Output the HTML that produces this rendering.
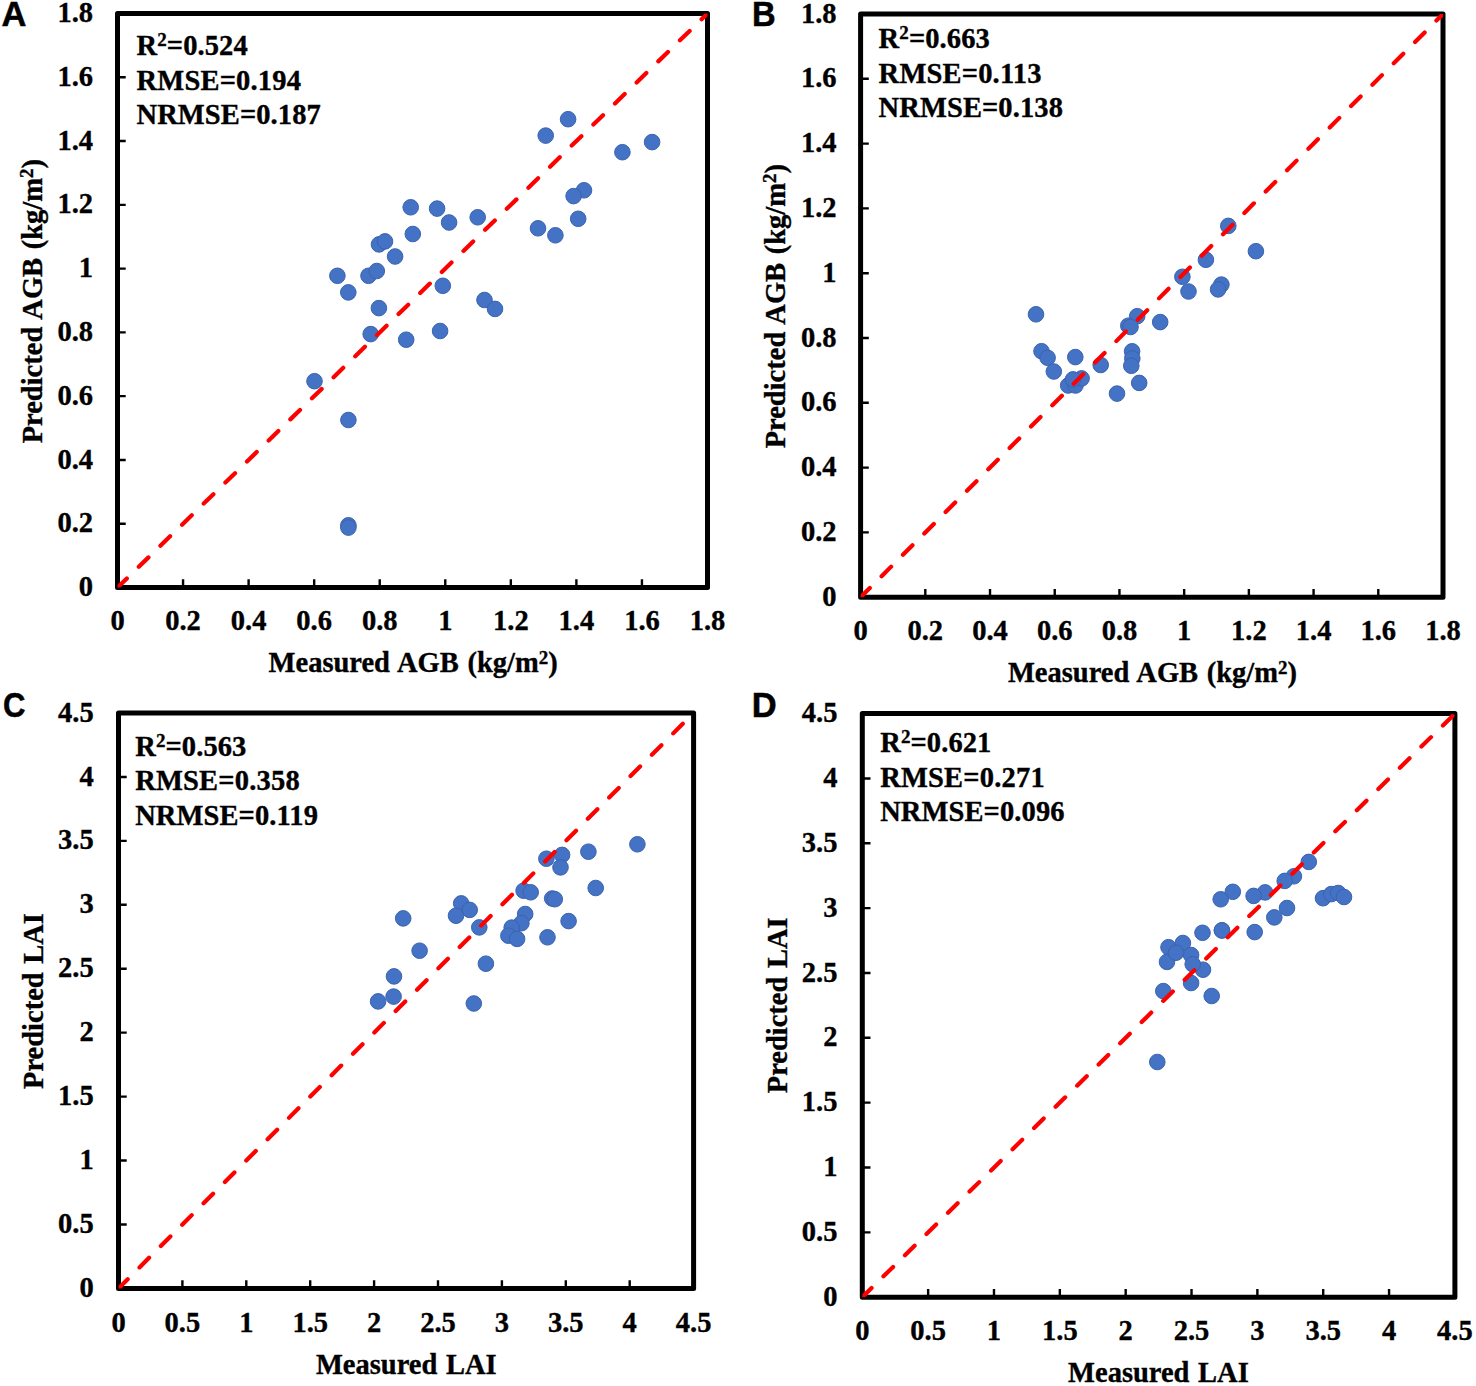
<!DOCTYPE html><html><head><meta charset="utf-8"><style>html,body{margin:0;padding:0;background:#fff;overflow:hidden;width:1476px;height:1386px;}svg{display:block;}</style></head><body>
<svg width="1476" height="1386" viewBox="0 0 1476 1386">
<rect width="1476" height="1386" fill="#fff"/>
<path d="M183.06 587.5v-8.2M117.5 523.72h8.2M248.61 587.5v-8.2M117.5 459.94h8.2M314.17 587.5v-8.2M117.5 396.17h8.2M379.72 587.5v-8.2M117.5 332.39h8.2M445.28 587.5v-8.2M117.5 268.61h8.2M510.83 587.5v-8.2M117.5 204.83h8.2M576.39 587.5v-8.2M117.5 141.06h8.2M641.94 587.5v-8.2M117.5 77.28h8.2" stroke="#000" stroke-width="2.4" fill="none"/>
<rect x="117.5" y="13.5" width="590.00" height="574.00" fill="none" stroke="#000" stroke-width="5" stroke-linejoin="round"/>
<g fill="#4472C4" stroke="#3B63B0" stroke-width="1"><circle cx="410.7" cy="207.3" r="7.8"/><circle cx="437.1" cy="208.6" r="7.8"/><circle cx="449.1" cy="222.5" r="7.8"/><circle cx="477.7" cy="217.3" r="7.8"/><circle cx="412.8" cy="234" r="7.8"/><circle cx="379" cy="244.4" r="7.8"/><circle cx="385" cy="241.4" r="7.8"/><circle cx="395.1" cy="256.5" r="7.8"/><circle cx="337.4" cy="275.8" r="7.8"/><circle cx="368.5" cy="275.8" r="7.8"/><circle cx="376.8" cy="271" r="7.8"/><circle cx="348.3" cy="292.4" r="7.8"/><circle cx="442.8" cy="285.8" r="7.8"/><circle cx="484.5" cy="300" r="7.8"/><circle cx="495" cy="308.9" r="7.8"/><circle cx="378.9" cy="308.1" r="7.8"/><circle cx="370.7" cy="334.1" r="7.8"/><circle cx="406.2" cy="339.7" r="7.8"/><circle cx="440.1" cy="331" r="7.8"/><circle cx="314.5" cy="381.2" r="7.8"/><circle cx="348.4" cy="420" r="7.8"/><circle cx="348.4" cy="525.3" r="7.8"/><circle cx="348.4" cy="527.6" r="7.8"/><circle cx="568.1" cy="119.2" r="7.8"/><circle cx="545.7" cy="135.6" r="7.8"/><circle cx="622.4" cy="152.2" r="7.8"/><circle cx="652.1" cy="142.1" r="7.8"/><circle cx="584" cy="190.3" r="7.8"/><circle cx="573.6" cy="196.1" r="7.8"/><circle cx="578.2" cy="218.8" r="7.8"/><circle cx="538" cy="228.3" r="7.8"/><circle cx="555.4" cy="235.3" r="7.8"/></g>
<clipPath id="cpA"><rect x="117.5" y="13.5" width="590.00" height="574.00"/></clipPath>
<line x1="117.5" y1="587.5" x2="707.5" y2="13.5" stroke="#FF0000" stroke-width="4.2" stroke-dasharray="13.5 16.7" stroke-dashoffset="0.5" stroke-linecap="round" clip-path="url(#cpA)"/>
<g font-family='"Liberation Serif", serif' font-weight="bold" font-size="28.5" fill="#000" stroke="#000" stroke-width="0.35"><text x="117.50" y="630.0" text-anchor="middle">0</text><text x="93.0" y="596.10" text-anchor="end">0</text><text x="183.06" y="630.0" text-anchor="middle">0.2</text><text x="93.0" y="532.32" text-anchor="end">0.2</text><text x="248.61" y="630.0" text-anchor="middle">0.4</text><text x="93.0" y="468.54" text-anchor="end">0.4</text><text x="314.17" y="630.0" text-anchor="middle">0.6</text><text x="93.0" y="404.77" text-anchor="end">0.6</text><text x="379.72" y="630.0" text-anchor="middle">0.8</text><text x="93.0" y="340.99" text-anchor="end">0.8</text><text x="445.28" y="630.0" text-anchor="middle">1</text><text x="93.0" y="277.21" text-anchor="end">1</text><text x="510.83" y="630.0" text-anchor="middle">1.2</text><text x="93.0" y="213.43" text-anchor="end">1.2</text><text x="576.39" y="630.0" text-anchor="middle">1.4</text><text x="93.0" y="149.66" text-anchor="end">1.4</text><text x="641.94" y="630.0" text-anchor="middle">1.6</text><text x="93.0" y="85.88" text-anchor="end">1.6</text><text x="707.50" y="630.0" text-anchor="middle">1.8</text><text x="93.0" y="22.10" text-anchor="end">1.8</text></g>
<g font-family='"Liberation Serif", serif' font-weight="bold" font-size="28.5" fill="#000" stroke="#000" stroke-width="0.35" word-spacing="1.5"><text x="136.5" y="55.0" letter-spacing="0.1">R<tspan font-size="19" dy="-9">2</tspan><tspan dy="9">=</tspan>0.524</text><text x="136.5" y="89.7" letter-spacing="0.2">RMSE=0.194</text><text x="136.5" y="124.3" letter-spacing="0.1">NRMSE=0.187</text><text x="268.6" y="671.9">Measured AGB (kg/m<tspan font-size="19" dy="-8.3">2</tspan><tspan dy="8.3">)</tspan></text><text transform="translate(42.4 301.2) rotate(-90)" x="0" y="0" text-anchor="middle">Predicted AGB (kg/m<tspan font-size="19" dy="-9">2</tspan><tspan dy="9">)</tspan></text></g>
<text transform="translate(1.6 25.6) scale(1.0 1.0)" font-family='"Liberation Sans", sans-serif' font-weight="bold" font-size="34.5" fill="#000" stroke="#000" stroke-width="0.5">A</text>
<path d="M925.31 597.2v-8.2M860.6 532.40h8.2M990.02 597.2v-8.2M860.6 467.60h8.2M1054.73 597.2v-8.2M860.6 402.80h8.2M1119.44 597.2v-8.2M860.6 338.00h8.2M1184.16 597.2v-8.2M860.6 273.20h8.2M1248.87 597.2v-8.2M860.6 208.40h8.2M1313.58 597.2v-8.2M860.6 143.60h8.2M1378.29 597.2v-8.2M860.6 78.80h8.2" stroke="#000" stroke-width="2.4" fill="none"/>
<rect x="860.6" y="14.0" width="582.40" height="583.20" fill="none" stroke="#000" stroke-width="5" stroke-linejoin="round"/>
<g fill="#4472C4" stroke="#3B63B0" stroke-width="1"><circle cx="1036" cy="314.3" r="7.8"/><circle cx="1041.5" cy="351.2" r="7.8"/><circle cx="1047.6" cy="357.8" r="7.8"/><circle cx="1053.8" cy="371.5" r="7.8"/><circle cx="1075.3" cy="357.1" r="7.8"/><circle cx="1068.2" cy="385.5" r="7.8"/><circle cx="1075.5" cy="385.5" r="7.8"/><circle cx="1081.6" cy="378.4" r="7.8"/><circle cx="1073" cy="379.4" r="7.8"/><circle cx="1100.7" cy="365" r="7.8"/><circle cx="1117" cy="393.6" r="7.8"/><circle cx="1137.2" cy="316.2" r="7.8"/><circle cx="1128.3" cy="325.7" r="7.8"/><circle cx="1130.5" cy="327" r="7.8"/><circle cx="1160.2" cy="322.1" r="7.8"/><circle cx="1132.1" cy="351.3" r="7.8"/><circle cx="1132.3" cy="358.5" r="7.8"/><circle cx="1131.3" cy="365.8" r="7.8"/><circle cx="1139.2" cy="382.9" r="7.8"/><circle cx="1228.3" cy="225.9" r="7.8"/><circle cx="1205.9" cy="259.8" r="7.8"/><circle cx="1255.9" cy="251.2" r="7.8"/><circle cx="1182.4" cy="276.8" r="7.8"/><circle cx="1188.5" cy="291.5" r="7.8"/><circle cx="1221.4" cy="284.6" r="7.8"/><circle cx="1218.1" cy="289.4" r="7.8"/></g>
<clipPath id="cpB"><rect x="860.6" y="14.0" width="582.40" height="583.20"/></clipPath>
<line x1="860.6" y1="597.2" x2="1443.0" y2="14.0" stroke="#FF0000" stroke-width="4.2" stroke-dasharray="13.5 16.7" stroke-dashoffset="0.5" stroke-linecap="round" clip-path="url(#cpB)"/>
<g font-family='"Liberation Serif", serif' font-weight="bold" font-size="28.5" fill="#000" stroke="#000" stroke-width="0.35"><text x="860.60" y="639.8" text-anchor="middle">0</text><text x="836.5" y="605.80" text-anchor="end">0</text><text x="925.31" y="639.8" text-anchor="middle">0.2</text><text x="836.5" y="541.00" text-anchor="end">0.2</text><text x="990.02" y="639.8" text-anchor="middle">0.4</text><text x="836.5" y="476.20" text-anchor="end">0.4</text><text x="1054.73" y="639.8" text-anchor="middle">0.6</text><text x="836.5" y="411.40" text-anchor="end">0.6</text><text x="1119.44" y="639.8" text-anchor="middle">0.8</text><text x="836.5" y="346.60" text-anchor="end">0.8</text><text x="1184.16" y="639.8" text-anchor="middle">1</text><text x="836.5" y="281.80" text-anchor="end">1</text><text x="1248.87" y="639.8" text-anchor="middle">1.2</text><text x="836.5" y="217.00" text-anchor="end">1.2</text><text x="1313.58" y="639.8" text-anchor="middle">1.4</text><text x="836.5" y="152.20" text-anchor="end">1.4</text><text x="1378.29" y="639.8" text-anchor="middle">1.6</text><text x="836.5" y="87.40" text-anchor="end">1.6</text><text x="1443.00" y="639.8" text-anchor="middle">1.8</text><text x="836.5" y="22.60" text-anchor="end">1.8</text></g>
<g font-family='"Liberation Serif", serif' font-weight="bold" font-size="28.5" fill="#000" stroke="#000" stroke-width="0.35" word-spacing="1.5"><text x="878.6" y="48.1" letter-spacing="0.1">R<tspan font-size="19" dy="-9">2</tspan><tspan dy="9">=</tspan>0.663</text><text x="878.6" y="82.8" letter-spacing="0.2">RMSE=0.113</text><text x="878.6" y="117.3" letter-spacing="0.1">NRMSE=0.138</text><text x="1007.9" y="682.0">Measured AGB (kg/m<tspan font-size="19" dy="-8.3">2</tspan><tspan dy="8.3">)</tspan></text><text transform="translate(785.2 306.2) rotate(-90)" x="0" y="0" text-anchor="middle">Predicted AGB (kg/m<tspan font-size="19" dy="-9">2</tspan><tspan dy="9">)</tspan></text></g>
<text transform="translate(752.0 25.7) scale(0.95 1.0)" font-family='"Liberation Sans", sans-serif' font-weight="bold" font-size="34.5" fill="#000" stroke="#000" stroke-width="0.5">B</text>
<path d="M182.40 1288.4v-8.2M118.5 1224.47h8.2M246.30 1288.4v-8.2M118.5 1160.53h8.2M310.20 1288.4v-8.2M118.5 1096.60h8.2M374.10 1288.4v-8.2M118.5 1032.67h8.2M438.00 1288.4v-8.2M118.5 968.73h8.2M501.90 1288.4v-8.2M118.5 904.80h8.2M565.80 1288.4v-8.2M118.5 840.87h8.2M629.70 1288.4v-8.2M118.5 776.93h8.2" stroke="#000" stroke-width="2.4" fill="none"/>
<rect x="118.5" y="713.0" width="575.10" height="575.40" fill="none" stroke="#000" stroke-width="5" stroke-linejoin="round"/>
<g fill="#4472C4" stroke="#3B63B0" stroke-width="1"><circle cx="403.2" cy="918.4" r="7.8"/><circle cx="419.6" cy="950.7" r="7.8"/><circle cx="394" cy="976.4" r="7.8"/><circle cx="393.6" cy="996.6" r="7.8"/><circle cx="378.1" cy="1001.4" r="7.8"/><circle cx="461.2" cy="903.4" r="7.8"/><circle cx="469.7" cy="909.9" r="7.8"/><circle cx="456" cy="915.7" r="7.8"/><circle cx="479.3" cy="927.4" r="7.8"/><circle cx="485.9" cy="963.7" r="7.8"/><circle cx="473.8" cy="1003.5" r="7.8"/><circle cx="637.4" cy="844.3" r="7.8"/><circle cx="588.4" cy="851.7" r="7.8"/><circle cx="562.1" cy="854.9" r="7.8"/><circle cx="546.4" cy="858.7" r="7.8"/><circle cx="560.5" cy="867.4" r="7.8"/><circle cx="595.7" cy="888" r="7.8"/><circle cx="523.6" cy="890.7" r="7.8"/><circle cx="530.7" cy="892.3" r="7.8"/><circle cx="552.2" cy="898.5" r="7.8"/><circle cx="554.8" cy="899.2" r="7.8"/><circle cx="525.2" cy="914" r="7.8"/><circle cx="521.4" cy="923.2" r="7.8"/><circle cx="511.7" cy="927.6" r="7.8"/><circle cx="508.4" cy="935.7" r="7.8"/><circle cx="517.1" cy="938.9" r="7.8"/><circle cx="568.6" cy="921.1" r="7.8"/><circle cx="547.5" cy="937.3" r="7.8"/></g>
<clipPath id="cpC"><rect x="118.5" y="713.0" width="575.10" height="575.40"/></clipPath>
<line x1="118.5" y1="1288.4" x2="693.6" y2="713.0" stroke="#FF0000" stroke-width="4.2" stroke-dasharray="13.5 16.7" stroke-dashoffset="0.5" stroke-linecap="round" clip-path="url(#cpC)"/>
<g font-family='"Liberation Serif", serif' font-weight="bold" font-size="28.5" fill="#000" stroke="#000" stroke-width="0.35"><text x="118.50" y="1332.2" text-anchor="middle">0</text><text x="93.7" y="1297.00" text-anchor="end">0</text><text x="182.40" y="1332.2" text-anchor="middle">0.5</text><text x="93.7" y="1233.07" text-anchor="end">0.5</text><text x="246.30" y="1332.2" text-anchor="middle">1</text><text x="93.7" y="1169.13" text-anchor="end">1</text><text x="310.20" y="1332.2" text-anchor="middle">1.5</text><text x="93.7" y="1105.20" text-anchor="end">1.5</text><text x="374.10" y="1332.2" text-anchor="middle">2</text><text x="93.7" y="1041.27" text-anchor="end">2</text><text x="438.00" y="1332.2" text-anchor="middle">2.5</text><text x="93.7" y="977.33" text-anchor="end">2.5</text><text x="501.90" y="1332.2" text-anchor="middle">3</text><text x="93.7" y="913.40" text-anchor="end">3</text><text x="565.80" y="1332.2" text-anchor="middle">3.5</text><text x="93.7" y="849.47" text-anchor="end">3.5</text><text x="629.70" y="1332.2" text-anchor="middle">4</text><text x="93.7" y="785.53" text-anchor="end">4</text><text x="693.60" y="1332.2" text-anchor="middle">4.5</text><text x="93.7" y="721.60" text-anchor="end">4.5</text></g>
<g font-family='"Liberation Serif", serif' font-weight="bold" font-size="28.5" fill="#000" stroke="#000" stroke-width="0.35" word-spacing="1.5"><text x="135.2" y="755.8" letter-spacing="0.1">R<tspan font-size="19" dy="-9">2</tspan><tspan dy="9">=</tspan>0.563</text><text x="135.2" y="790.4" letter-spacing="0.2">RMSE=0.358</text><text x="135.2" y="824.8" letter-spacing="0.1">NRMSE=0.119</text><text x="315.9" y="1374.0">Measured LAI</text><text transform="translate(42.6 1001.0) rotate(-90)" x="0" y="0" text-anchor="middle">Predicted LAI</text></g>
<text transform="translate(3.0 716.8) scale(0.9 1.04)" font-family='"Liberation Sans", sans-serif' font-weight="bold" font-size="34.5" fill="#000" stroke="#000" stroke-width="0.5">C</text>
<path d="M928.14 1297.2v-8.2M862.3 1232.36h8.2M993.99 1297.2v-8.2M862.3 1167.51h8.2M1059.83 1297.2v-8.2M862.3 1102.67h8.2M1125.68 1297.2v-8.2M862.3 1037.82h8.2M1191.52 1297.2v-8.2M862.3 972.98h8.2M1257.37 1297.2v-8.2M862.3 908.13h8.2M1323.21 1297.2v-8.2M862.3 843.29h8.2M1389.06 1297.2v-8.2M862.3 778.44h8.2" stroke="#000" stroke-width="2.4" fill="none"/>
<rect x="862.3" y="713.6" width="592.60" height="583.60" fill="none" stroke="#000" stroke-width="5" stroke-linejoin="round"/>
<g fill="#4472C4" stroke="#3B63B0" stroke-width="1"><circle cx="1202.5" cy="932.8" r="7.8"/><circle cx="1222" cy="930.4" r="7.8"/><circle cx="1168.5" cy="947.2" r="7.8"/><circle cx="1182.9" cy="943" r="7.8"/><circle cx="1191.1" cy="955" r="7.8"/><circle cx="1167" cy="961.9" r="7.8"/><circle cx="1176" cy="952.7" r="7.8"/><circle cx="1203" cy="969.7" r="7.8"/><circle cx="1192.7" cy="964.2" r="7.8"/><circle cx="1191.1" cy="983" r="7.8"/><circle cx="1163.3" cy="991.1" r="7.8"/><circle cx="1211.7" cy="996" r="7.8"/><circle cx="1157.3" cy="1062" r="7.8"/><circle cx="1308.8" cy="861.9" r="7.8"/><circle cx="1293.9" cy="876.3" r="7.8"/><circle cx="1284.7" cy="880.9" r="7.8"/><circle cx="1265.1" cy="892.4" r="7.8"/><circle cx="1253.6" cy="895.9" r="7.8"/><circle cx="1232.8" cy="891.8" r="7.8"/><circle cx="1220.7" cy="899.3" r="7.8"/><circle cx="1287" cy="908" r="7.8"/><circle cx="1274.3" cy="917.4" r="7.8"/><circle cx="1254.7" cy="932.1" r="7.8"/><circle cx="1221.9" cy="930.4" r="7.8"/><circle cx="1323" cy="898.2" r="7.8"/><circle cx="1331.3" cy="894.1" r="7.8"/><circle cx="1338.2" cy="893" r="7.8"/><circle cx="1344" cy="897" r="7.8"/></g>
<clipPath id="cpD"><rect x="862.3" y="713.6" width="592.60" height="583.60"/></clipPath>
<line x1="862.3" y1="1297.2" x2="1454.9" y2="713.6" stroke="#FF0000" stroke-width="4.2" stroke-dasharray="13.5 16.7" stroke-dashoffset="0.5" stroke-linecap="round" clip-path="url(#cpD)"/>
<g font-family='"Liberation Serif", serif' font-weight="bold" font-size="28.5" fill="#000" stroke="#000" stroke-width="0.35"><text x="862.30" y="1339.6" text-anchor="middle">0</text><text x="837.4" y="1305.80" text-anchor="end">0</text><text x="928.14" y="1339.6" text-anchor="middle">0.5</text><text x="837.4" y="1240.96" text-anchor="end">0.5</text><text x="993.99" y="1339.6" text-anchor="middle">1</text><text x="837.4" y="1176.11" text-anchor="end">1</text><text x="1059.83" y="1339.6" text-anchor="middle">1.5</text><text x="837.4" y="1111.27" text-anchor="end">1.5</text><text x="1125.68" y="1339.6" text-anchor="middle">2</text><text x="837.4" y="1046.42" text-anchor="end">2</text><text x="1191.52" y="1339.6" text-anchor="middle">2.5</text><text x="837.4" y="981.58" text-anchor="end">2.5</text><text x="1257.37" y="1339.6" text-anchor="middle">3</text><text x="837.4" y="916.73" text-anchor="end">3</text><text x="1323.21" y="1339.6" text-anchor="middle">3.5</text><text x="837.4" y="851.89" text-anchor="end">3.5</text><text x="1389.06" y="1339.6" text-anchor="middle">4</text><text x="837.4" y="787.04" text-anchor="end">4</text><text x="1454.90" y="1339.6" text-anchor="middle">4.5</text><text x="837.4" y="722.20" text-anchor="end">4.5</text></g>
<g font-family='"Liberation Serif", serif' font-weight="bold" font-size="28.5" fill="#000" stroke="#000" stroke-width="0.35" word-spacing="1.5"><text x="880.2" y="752.0" letter-spacing="0.1">R<tspan font-size="19" dy="-9">2</tspan><tspan dy="9">=</tspan>0.621</text><text x="880.2" y="786.8" letter-spacing="0.2">RMSE=0.271</text><text x="880.2" y="821.4" letter-spacing="0.1">NRMSE=0.096</text><text x="1068.1" y="1382.2">Measured LAI</text><text transform="translate(786.8 1005.3) rotate(-90)" x="0" y="0" text-anchor="middle">Predicted LAI</text></g>
<text transform="translate(751.7 716.5) scale(1.0 1.0)" font-family='"Liberation Sans", sans-serif' font-weight="bold" font-size="34.5" fill="#000" stroke="#000" stroke-width="0.5">D</text>
</svg></body></html>
